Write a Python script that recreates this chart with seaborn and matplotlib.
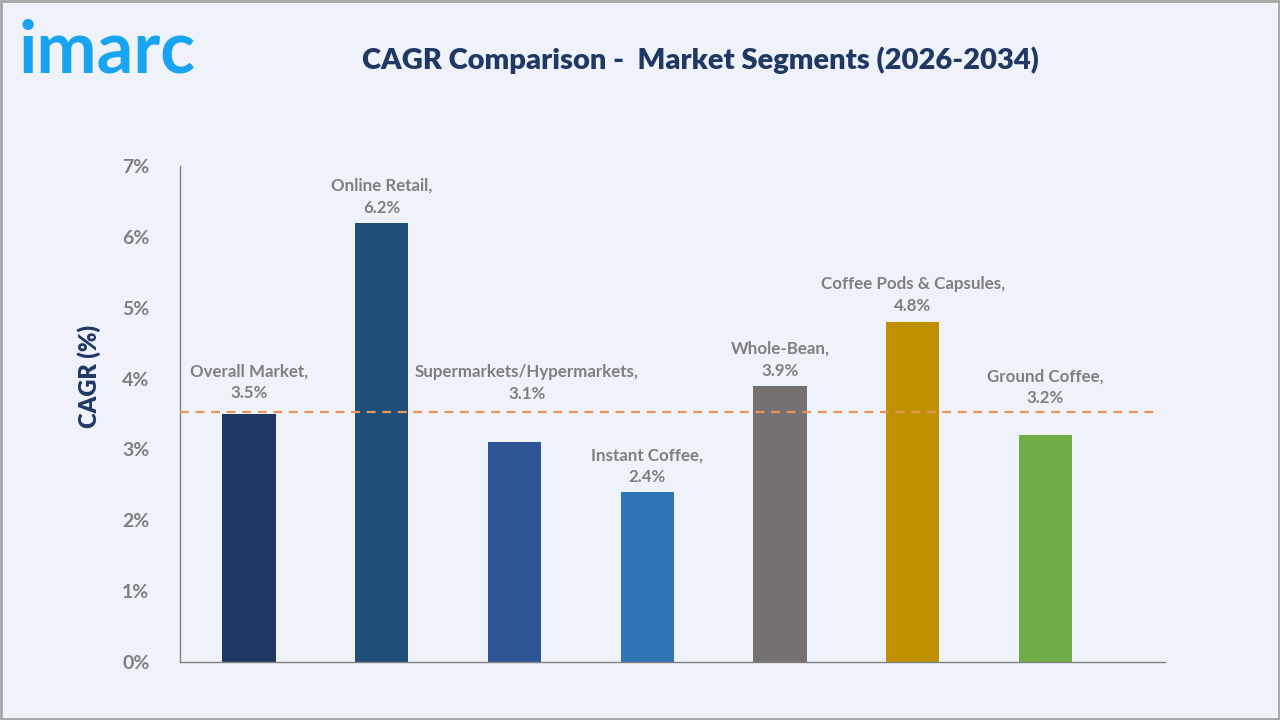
import numpy as np
import pandas as pd
import seaborn as sns
import matplotlib.pyplot as plt
from matplotlib.patches import Rectangle

segments = ["Overall Market", "Online Retail", "Supermarkets/Hypermarkets",
            "Instant Coffee", "Whole-Bean", "Coffee Pods & Capsules", "Ground Coffee"]
cagr = [3.5, 6.2, 3.1, 2.4, 3.9, 4.8, 3.2]
bar_colors = ["#203864", "#1F4E79", "#2F5597", "#2E75B6", "#767171", "#BF9000", "#70AD47"]
yticks = [0, 1, 2, 3, 4, 5, 6, 7]

bg = "#EFF3F9"
sns.set_theme(style="white")
plt.rcParams['font.family'] = ['Lato', 'DejaVu Sans']

df = pd.DataFrame({"segment": segments, "cagr": cagr})

fig = plt.figure(figsize=(12.8, 7.2), dpi=100, facecolor=bg)
ax = fig.add_axes([180/1280, 1 - 662/720, (1165-180)/1280, (662-166)/720])
ax.set_facecolor(bg)

sns.barplot(data=df, x="segment", y="cagr", hue="segment", palette=bar_colors,
            width=0.4, legend=False, ax=ax, saturation=1, linewidth=0, zorder=2)

ax.set_xlim(-0.52, 6.9)
ax.set_ylim(0, 7)
ax.set_yticks(yticks)
ax.set_yticklabels([f"{t}%" for t in yticks], fontsize=14, color="#7F7F7F", fontweight="bold")
ax.set_xticks([])
ax.set_xlabel("")
ax.set_ylabel("CAGR (%)", fontsize=17, color="#203864", fontweight="heavy")
ax.yaxis.set_label_coords(-0.08, 0.575)
ax.tick_params(axis="y", length=6, width=1, color="#808080", direction="out", pad=16)

for s in ["top", "right"]:
    ax.spines[s].set_visible(False)
for s in ["left", "bottom"]:
    ax.spines[s].set_color("#808080")
    ax.spines[s].set_linewidth(1)

# reference line at overall market
ax.axhline(cagr[0] + 0.03, xmin=0, xmax=(1155-180)/(1165-180), color="#E8955A",
           linestyle=(0, (4, 3)), linewidth=1.6, zorder=3)

# label offsets from bar top, in points
lifts = [9, 5, 29, 5, 5, 6, 21]
shifts = [0, 0, 9, 0, 0, 0, 0]
for i, (name, v) in enumerate(zip(segments, cagr)):
    ax.annotate(f"{name},\n{v}%", (i, v), xytext=(shifts[i], lifts[i]), textcoords="offset points",
                ha="center", va="bottom", fontsize=12.2, color="#7F7F7F",
                fontweight="bold", linespacing=1.45, zorder=4)

fig.text(700/1280, 1 - 60/720, "CAGR Comparison -  Market Segments (2026-2034)",
         ha="center", va="center", fontsize=21, fontweight="heavy", color="#203864")
fig.text(18/1280, 1 - 52/720, "imarc", ha="left", va="center", fontsize=52,
         fontweight="bold", color="#18A4F0")

fig.patches.append(Rectangle((0.001, 0.002), 0.998, 0.996, transform=fig.transFigure,
                             fill=False, edgecolor="#A6A6A6", linewidth=2))

fig.savefig("out.png", dpi=100, facecolor=bg)
